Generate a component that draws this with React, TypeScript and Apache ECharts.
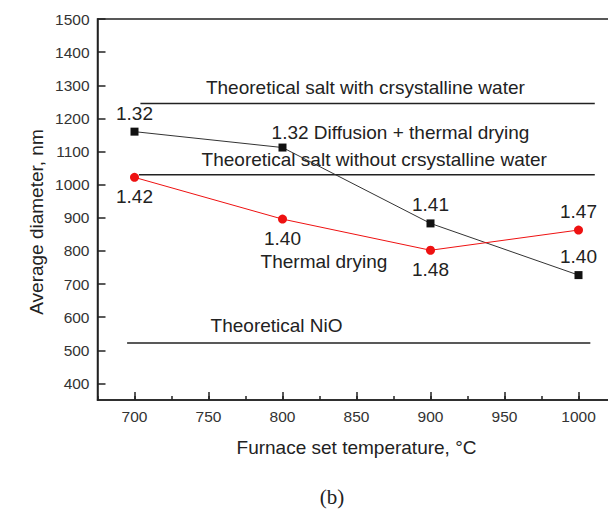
import React, { useEffect, useRef } from 'react';
import * as echarts from 'echarts';

const temps = [700, 800, 900, 1000];
const diffusionDiameters = [1160, 1112, 883, 727];
const thermalDiameters = [1022, 896, 802, 863];
const diffusionLabels = ['1.32', '1.32 Diffusion + thermal drying', '1.41', '1.40'];
const thermalLabels = ['1.42', '1.40', '1.48', '1.47'];

const refNames = ['Theoretical salt with crsystalline water', 'Theoretical salt without crsystalline water', 'Theoretical NiO'];
const refValues = [1245, 1030, 522];
const refFrom = [704, 703, 695];
const refTo = [1011, 1011, 1008];

const annotationTexts = ['Theoretical salt with crsystalline water', 'Theoretical salt without crsystalline water', 'Theoretical NiO', 'Thermal drying'];
const annotationX = [856, 862, 796, 828];
const annotationY = [1292, 1077, 576, 767];

const xTicks = [700, 750, 800, 850, 900, 950, 1000];
const yTicks = [400, 500, 600, 700, 800, 900, 1000, 1100, 1200, 1300, 1400, 1500];

const FONT = 'Liberation Sans, Arial, sans-serif';
const TEXT = '#222';
const FS = 19;

export default function App() {
  const ref = useRef<HTMLDivElement>(null);
  useEffect(() => {
    const chart = echarts.init(ref.current!, null, { renderer: 'svg' });
    const diffPos = ['top', 'top', 'top', 'top'];
    const diffOffset = [[0, 0], [118, 3], [0, 0], [0, 0]];
    const thermPos = ['bottom', 'bottom', 'bottom', 'top'];
    const plain = (v: number) => String(v);
    const option: any = {
      animation: false,
      backgroundColor: '#fff',
      grid: {
        left: 97.5,
        right: -7.5,
        top: 19,
        bottom: 109,
        show: true,
        borderColor: '#222',
        borderWidth: 1.5,
        containLabel: false,
        outerBoundsMode: 'none',
      },
      xAxis: [
        {
          type: 'value',
          min: 675,
          max: 1025,
          position: 'bottom',
          axisLine: { lineStyle: { color: '#222', width: 1.5 } },
          axisTick: { inside: true, length: 8, customValues: xTicks, lineStyle: { color: '#222', width: 1.5 } },
          axisLabel: { customValues: xTicks, formatter: plain, fontSize: 15.5, color: '#333', fontFamily: FONT, margin: 8 },
          splitLine: { show: false },
          name: 'Furnace set temperature, °C',
          nameLocation: 'middle',
          nameGap: 38,
          nameTextStyle: { fontSize: FS, color: TEXT, fontFamily: FONT },
        },
        {
          type: 'value',
          min: 675,
          max: 1025,
          interval: 25,
          position: 'bottom',
          axisLine: { show: false },
          axisTick: { inside: true, length: 4, lineStyle: { color: '#222', width: 1.5 } },
          axisLabel: { show: false },
          splitLine: { show: false },
        },
      ],
      yAxis: {
        type: 'value',
        min: 350,
        max: 1500,
        axisLine: { show: true, lineStyle: { color: '#222', width: 1.5 } },
        axisTick: { show: true, inside: true, length: 8, customValues: yTicks, lineStyle: { color: '#222', width: 1.5 } },
        axisLabel: { customValues: yTicks, formatter: plain, fontSize: 15.5, color: '#333', fontFamily: FONT, margin: 8 },
        splitLine: { show: false },
      },
      graphic: [
        {
          type: 'text',
          x: 36,
          y: 222,
          rotation: Math.PI / 2,
          style: { text: 'Average diameter, nm', font: `${FS}px ${FONT}`, fill: TEXT, align: 'center', verticalAlign: 'middle' },
        },
        {
          type: 'text',
          x: 332,
          y: 497,
          style: { text: '(b)', font: '21px Liberation Serif, Times New Roman, serif', fill: TEXT, align: 'center', verticalAlign: 'middle' },
        },
      ],
      series: [
        ...refNames.map((n, i) => ({
          name: n,
          type: 'line',
          symbol: 'none',
          data: [[refFrom[i], refValues[i]], [refTo[i], refValues[i]]],
          lineStyle: { color: '#222', width: 1.5 },
          silent: true,
          z: 1,
        })),
        {
          name: 'Diffusion + thermal drying',
          type: 'line',
          symbol: 'rect',
          symbolSize: 8,
          itemStyle: { color: '#111' },
          lineStyle: { color: '#333', width: 1 },
          z: 3,
          data: temps.map((t, i) => ({
            value: [t, diffusionDiameters[i]],
            label: {
              show: true,
              position: diffPos[i],
              offset: diffOffset[i],
              formatter: diffusionLabels[i],
              fontSize: FS,
              color: TEXT,
              fontFamily: FONT,
            },
          })),
        },
        {
          name: 'Thermal drying',
          type: 'line',
          symbol: 'circle',
          symbolSize: 9,
          itemStyle: { color: '#ee1111' },
          lineStyle: { color: '#ee1111', width: 1 },
          z: 3,
          data: temps.map((t, i) => ({
            value: [t, thermalDiameters[i]],
            label: {
              show: true,
              position: thermPos[i],
              formatter: thermalLabels[i],
              fontSize: FS,
              color: TEXT,
              fontFamily: FONT,
            },
          })),
        },
        {
          name: 'annotations',
          type: 'scatter',
          symbolSize: 1,
          itemStyle: { color: 'transparent', opacity: 1 },
          silent: true,
          z: 2,
          data: annotationTexts.map((txt, i) => ({
            value: [annotationX[i], annotationY[i]],
            label: {
              show: true,
              position: 'inside',
              formatter: txt,
              fontSize: FS,
              color: TEXT,
              opacity: 1,
              fontFamily: FONT,
            },
          })),
        },
      ],
    };
    chart.setOption(option);
    return () => chart.dispose();
  }, []);
  return (
    <div
      ref={ref}
      style={{ position: 'absolute', left: 0, top: 0, width: 608, height: 509, background: '#fff' }}
    />
  );
}
